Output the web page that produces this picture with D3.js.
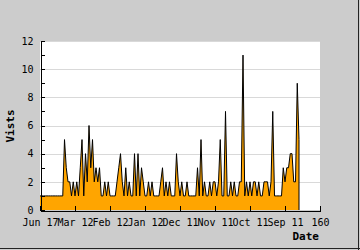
<!DOCTYPE html>
<html><head><meta charset="utf-8">
<script src="https://cdn.jsdelivr.net/npm/d3@7"></script>
<style>body{margin:0;background:#cccccc}svg{display:block}</style>
</head><body>
<svg id="c" width="360" height="250"></svg>
<script>
const tickLabels = ["Jun 17","Mar 12","Feb 12","Jan 12","Dec 11","Nov 11","Oct 11","Sep 11","160"];
const tickValues = [0,20,40,60,80,100,120,140,160];
const visits = [
 1,1,1,1,1,1,1,1,1,1,1,1,1,1,
 5,3,2,2,1,2,1,2,1,3,5,1,4,2,6,3,5,2,3,2,3,1,1,2,1,2,
 1,1,1,1,2,3,4,2,1,3,1,2,1,1,4,1,4,1,3,2,
 1,1,2,1,2,1,1,1,1,2,3,1,2,1,2,1,1,1,4,2,
 1,2,1,1,2,1,1,1,1,1,3,1,5,1,2,1,1,2,1,2,
 2,1,2,5,1,1,7,1,1,2,1,2,1,1,2,2,11,1,2,1,
 2,1,2,2,1,2,1,1,2,2,2,1,2,7,1,1,1,1,1,3,
 2,3,3,4,4,2,2,9,5
];
const xLabel = "Date", yLabel = "Vists";

const svg = d3.select("#c");
const W=360,H=250;
svg.append("rect").attr("width",W).attr("height",H).attr("fill","#cccccc");
svg.append("line").attr("x1",0).attr("x2",W).attr("y1",H-1.5).attr("y2",H-1.5).attr("stroke","#222").attr("stroke-width",1);
svg.append("line").attr("x1",W-1.5).attr("x2",W-1.5).attr("y1",0).attr("y2",H).attr("stroke","#222").attr("stroke-width",1);

const x = d3.scaleLinear().domain([0,160]).range([40,320]);
const y = d3.scaleLinear().domain([0,12]).range([210,41]);

svg.append("rect").attr("x",40).attr("y",41).attr("width",280).attr("height",169).attr("fill","#fff");

svg.append("g").selectAll("line").data([2,4,6,8,10,12]).join("line")
 .attr("x1",40).attr("x2",320).attr("y1",d=>Math.round(y(d))+0.5).attr("y2",d=>Math.round(y(d))+0.5)
 .attr("stroke","#d9d9d9").attr("shape-rendering","crispEdges");

const area = d3.area().x((d,i)=>x(i)).y0(y(0)).y1(d=>y(d));
const line = d3.line().x((d,i)=>x(i)).y(d=>y(d));
svg.append("path").datum(visits).attr("d",area).attr("fill","#ffa500");
svg.append("path").datum(visits).attr("d",line).attr("fill","none").attr("stroke","#000").attr("stroke-width",1);
// close the right edge like the reference
svg.append("line").attr("x1",x(visits.length-1)).attr("x2",x(visits.length-1))
 .attr("y1",y(visits[visits.length-1])).attr("y2",y(0)).attr("stroke","#000");

const font = "'DejaVu Sans Mono', monospace";
const yAxis = d3.axisLeft(y).tickValues(d3.range(0,13)).tickSizeInner(-4).tickSizeOuter(0).tickPadding(7)
 .tickFormat(d=>d%2===0?d:"");
const gy = svg.append("g").attr("transform","translate(40.5,0)").call(yAxis);
const xAxis = d3.axisBottom(x).tickValues(tickValues).tickSizeInner(-5).tickSizeOuter(0).tickPadding(8)
 .tickFormat((d,i)=>tickLabels[i]);
const gx = svg.append("g").attr("transform","translate(0,210.5)").call(xAxis);
[gx,gy].forEach(g=>{
  g.selectAll("path,line").attr("stroke","#000").attr("shape-rendering","crispEdges");
  g.selectAll("text").attr("font-family",font).attr("font-size","10px").attr("fill","#000");
});

svg.append("text").attr("x",319).attr("y",240).attr("text-anchor","end")
 .attr("font-family",font).attr("font-size","11px").attr("font-weight","bold").text(xLabel);
svg.append("text").attr("transform","translate(14,126) rotate(-90)").attr("text-anchor","middle")
 .attr("font-family",font).attr("font-size","11px").attr("font-weight","bold").text(yLabel);
</script>
</body></html>
